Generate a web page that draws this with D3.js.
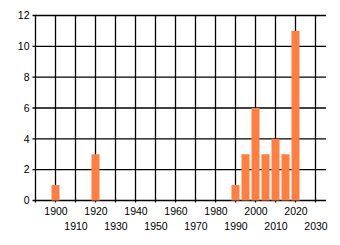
<!DOCTYPE html>
<html>
<head>
<meta charset="utf-8">
<script src="https://cdn.jsdelivr.net/npm/d3@7"></script>
<style>
  body { margin: 0; background: #fff; }
  text { font-family: "Liberation Sans", Arial, sans-serif; font-size: 10.5px; fill: #000; }
</style>
</head>
<body>
<svg width="340" height="245"></svg>
<script>
// data
var years = [1900, 1920, 1990, 1995, 2000, 2005, 2010, 2015, 2020];
var counts = [1, 3, 1, 3, 6, 3, 4, 3, 11];
var yTicks = [0, 2, 4, 6, 8, 10, 12];
var xTicks = [1900, 1910, 1920, 1930, 1940, 1950, 1960, 1970, 1980, 1990, 2000, 2010, 2020, 2030];

// plot box (window.top is read-only, hence the odd names)
var pLeft = 35.5, pRight = 326, pTop = 15.5, pBottom = 200.5;
var bar_col = "rgb(255,127,64)";

var svg = d3.select("svg");

var x = d3.scaleLinear().domain([1890, 2035.25]).range([pLeft, pRight]);
var y = d3.scaleLinear().domain([0, 12]).range([pBottom, pTop]);

// grid
var grid = svg.append("g");
grid.selectAll(".hl").data(yTicks).enter().append("line")
  .attr("x1", pLeft - 3).attr("x2", pRight)
  .attr("y1", function(d){ return y(d) }).attr("y2", function(d){ return y(d) })
  .attr("stroke", "#000").attr("stroke-width", 1.3);

grid.selectAll(".vl").data([1890].concat(xTicks)).enter().append("line")
  .attr("x1", function(d){ return x(d) }).attr("x2", function(d){ return x(d) })
  .attr("y1", pTop).attr("y2", pBottom + 2)
  .attr("stroke", "#000").attr("stroke-width", 1.3);

// bars
svg.append("g").selectAll("rect").data(years).enter().append("rect")
  .attr("x", function(d){ return x(d - 2) })
  .attr("width", function(d){ return x(d + 2) - x(d - 2) })
  .attr("y", function(d, i){ return y(counts[i]) })
  .attr("height", function(d, i){ return y(0) - y(counts[i]) })
  .attr("fill", bar_col);

// y labels
svg.append("g").selectAll("text").data(yTicks).enter().append("text")
  .attr("x", 29.5).attr("y", function(d){ return y(d) })
  .attr("dy", "0.35em").attr("text-anchor", "end")
  .text(function(d){ return d });

// x labels, staggered in two rows
svg.append("g").selectAll("text").data(xTicks).enter().append("text")
  .attr("x", function(d){ return x(d) + 0.5 })
  .attr("y", function(d){ return (d % 20 === 0) ? 214.5 : 229.5 })
  .attr("text-anchor", "middle")
  .text(function(d){ return d });
</script>
</body>
</html>
